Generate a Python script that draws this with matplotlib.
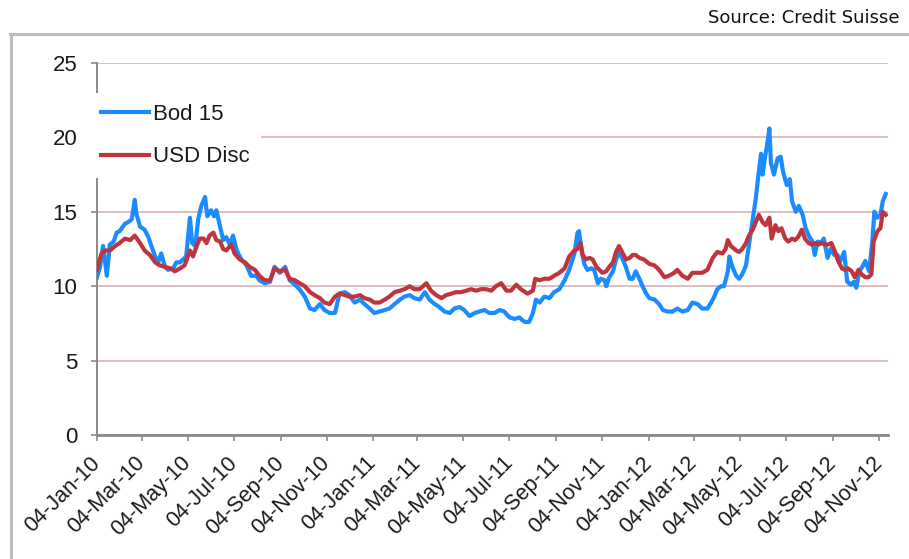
import numpy as np
import matplotlib
matplotlib.use('Agg')
import matplotlib.pyplot as plt
from matplotlib.lines import Line2D
from matplotlib.transforms import ScaledTranslation
import datetime as dt

# ---------------- data ----------------
start_date = '2010-01-04'
series_names = ['Bod 15', 'USD Disc']
source_text = 'Source: Credit Suisse'

# days since 04-Jan-2010 and values
bod15_days = [0, 4, 8, 13, 17, 22, 26, 30, 37, 41, 46, 50, 52, 57, 63, 68, 72, 77, 81, 85,
              90, 94, 101, 105, 110, 114, 118, 123, 126, 130, 134, 138, 143, 146, 151, 155, 158,
              163, 167, 171, 176, 180, 185, 191, 198, 204, 211, 215,
              222, 229, 235, 242, 249, 255, 262, 268, 275, 282, 288, 295, 301, 308, 315, 321,
              328, 334, 341, 348, 354, 361, 367, 374, 381, 387, 394, 401, 407, 414, 420, 427,
              434, 440, 447, 453, 460, 467, 473, 480, 486, 493, 500, 506, 513, 519, 526, 533,
              539, 546, 553, 559, 566, 572, 577, 581, 586, 592, 599, 605, 612, 619, 625, 632, 636,
              638, 642, 645, 649, 654, 658, 663, 667, 672, 674, 678, 683, 687, 691, 696, 700,
              705, 709, 713, 718, 722, 727, 731, 738, 744, 749, 755, 762, 768, 775, 782, 788,
              795, 801, 808, 813, 817, 821, 826, 830, 835, 837, 841, 846, 850,
              854, 859, 863, 868, 872, 876, 879, 881, 884, 887, 890, 892, 896, 901, 905, 908,
              913, 917, 920, 925, 929, 934, 938, 942, 947, 950, 954, 958, 962, 967, 971, 976,
              980, 984, 989, 993, 998, 1002, 1005, 1009, 1013, 1017, 1022, 1026, 1029, 1033,
              1037, 1040, 1044]
bod15_vals = [10.6, 11.3, 12.7, 10.7, 12.8, 13.0, 13.6, 13.7, 14.2, 14.3, 14.5, 15.8, 14.9, 14.0,
              13.8, 13.3, 12.7, 12.0, 11.6, 12.2, 11.3, 11.1, 11.2, 11.6, 11.6, 11.8, 12.0, 14.6,
              12.9, 12.7, 14.5, 15.4, 16.0, 14.7, 15.1, 14.7, 15.1, 14.0, 13.1, 13.3, 12.8, 13.4,
              12.4, 11.8, 11.4, 10.7, 10.7, 10.4,
              10.2, 10.3, 11.3, 10.9, 11.3, 10.4, 10.1, 9.8, 9.3, 8.5, 8.4, 8.8, 8.4, 8.2, 8.2,
              9.5, 9.6, 9.4, 8.9, 9.1, 8.8, 8.5, 8.2, 8.3, 8.4, 8.5, 8.8, 9.1, 9.3, 9.4, 9.2, 9.1,
              9.6, 9.1, 8.8, 8.6, 8.3, 8.2, 8.5, 8.6, 8.4, 8.0, 8.2, 8.3, 8.4, 8.2, 8.2, 8.4,
              8.3, 7.9, 7.8, 7.9, 7.6, 7.6, 8.2, 9.1, 8.9, 9.3, 9.2, 9.6, 9.8, 10.4, 11.1, 12.2, 13.6,
              13.7, 12.2, 11.5, 11.1, 11.2, 11.1, 10.2, 10.5, 10.4, 10.0, 10.6, 11.0, 11.8, 12.3,
              11.8, 11.3, 10.5, 10.5, 11.0, 10.5, 10.0, 9.5, 9.2, 9.1, 8.8, 8.4, 8.3, 8.3, 8.5,
              8.3, 8.4, 8.9, 8.8, 8.5, 8.5, 8.9, 9.3, 9.8, 10.0, 10.0, 11.0, 12.0, 11.3, 10.7, 10.5,
              10.8, 11.4, 12.8, 14.6, 15.9, 17.7, 18.9, 17.5, 18.6, 19.5, 20.6, 18.3, 17.5, 18.6,
              18.7, 17.7, 16.8, 17.2, 15.7, 15.0, 15.4, 14.8, 13.9, 13.4, 13.0, 12.1, 13.0, 12.9,
              13.2, 11.9, 12.5, 12.1, 12.1, 11.7, 12.3, 10.3, 10.1, 10.3, 9.9, 11.0, 11.3, 11.7,
              11.0, 12.9, 15.0, 14.6, 14.8, 15.7, 16.2]

usd_days = [0, 6, 11, 17, 24, 30, 37, 44, 50, 57, 63, 70, 77, 83, 90, 97, 103, 110, 116, 123,
            127, 132, 136, 141, 145, 149, 154, 158, 163, 167, 171, 178, 182, 189, 196, 202, 209, 215,
            222, 229, 235, 242, 249, 255, 262, 268, 275, 282, 288, 295, 301, 308, 315, 321, 328,
            334, 341, 348, 354, 361, 367, 374, 381, 387, 394, 401, 407, 414, 420, 427,
            436, 442, 449, 456, 462, 469, 475, 482, 489, 495, 502, 508, 515, 522, 528, 535, 542,
            548, 555, 561, 570, 577, 580, 586, 592, 599, 605, 612, 619, 625, 632, 636,
            640, 643, 647, 652, 656, 661, 665, 669, 674, 678, 683, 687, 691, 696, 700, 705, 709,
            713, 718, 724, 731, 738, 744, 751, 757, 764, 768, 775, 782, 788, 795, 801, 808, 815,
            821, 828, 832, 835, 839, 846, 850,
            854, 859, 863, 868, 872, 876, 881, 885, 890, 893, 898, 902, 906, 911, 915, 920, 924,
            928, 933, 937, 942, 946, 950, 955, 959, 964, 968, 972, 977, 981, 986, 990, 994, 999,
            1003, 1008, 1012, 1017, 1021, 1025, 1028, 1033, 1037, 1040, 1044]
usd_vals = [11.1, 12.2, 12.4, 12.4, 12.7, 12.9, 13.2, 13.1, 13.4, 12.9, 12.4, 12.1, 11.6, 11.4,
            11.3, 11.2, 11.0, 11.2, 11.4, 12.4, 12.0, 12.7, 13.2, 13.2, 12.9, 13.4, 13.6, 13.1,
            13.0, 12.5, 12.4, 12.8, 12.2, 11.8, 11.6, 11.3, 11.1, 10.7,
            10.4, 10.4, 11.2, 11.0, 11.1, 10.5, 10.4, 10.2, 10.0, 9.6, 9.4, 9.2, 8.9, 8.8, 9.3,
            9.5, 9.4, 9.3, 9.3, 9.4, 9.2, 9.1, 8.9, 8.9, 9.1, 9.3, 9.6, 9.7, 9.8, 10.0, 9.8, 9.8,
            10.2, 9.7, 9.4, 9.2, 9.4, 9.5, 9.6, 9.6, 9.7, 9.8, 9.7, 9.8, 9.8, 9.7, 10.0, 10.2, 9.7,
            9.7, 10.1, 9.8, 9.5, 9.7, 10.5, 10.4, 10.5, 10.5, 10.7, 10.9, 11.2, 12.0, 12.4, 12.5,
            12.9, 12.1, 11.8, 11.9, 11.8, 11.3, 11.1, 10.9, 11.0, 11.3, 11.6, 12.3, 12.7, 12.2,
            11.8, 11.9, 12.1, 12.1, 11.9, 11.8, 11.5, 11.4, 11.1, 10.6, 10.7, 10.9, 11.1, 10.7,
            10.5, 10.9, 10.9, 10.9, 11.1, 11.9, 12.3, 12.2, 12.5, 13.1, 12.7, 12.4, 12.3,
            12.5, 12.9, 13.4, 13.8, 14.3, 14.8, 14.3, 14.1, 14.6, 13.2, 14.1, 13.7, 13.9, 13.2,
            13.0, 13.2, 13.1, 13.3, 13.8, 13.2, 12.9, 12.8, 12.9, 12.8, 12.9, 12.8, 12.8, 12.9,
            12.3, 11.7, 11.2, 11.1, 11.2, 11.0, 10.6, 11.1, 10.8, 10.6, 10.6, 10.8, 13.0, 13.7,
            13.9, 15.0, 14.8]

tick_dates = ['2010-01-04', '2010-03-04', '2010-05-04', '2010-07-04', '2010-09-04', '2010-11-04',
              '2011-01-04', '2011-03-04', '2011-05-04', '2011-07-04', '2011-09-04', '2011-11-04',
              '2012-01-04', '2012-03-04', '2012-05-04', '2012-07-04', '2012-09-04', '2012-11-04']
y_ticks = [0, 5, 10, 15, 20, 25]

# ---------------- figure ----------------
W, H = 909, 559
plt.rcParams['font.family'] = ['Liberation Sans', 'DejaVu Sans']
fig = plt.figure(figsize=(W / 100, H / 100), dpi=100)

# outer panel frame
fig.add_artist(Line2D([10 / W, 1.0], [1 - 34 / H, 1 - 34 / H], transform=fig.transFigure,
                      color='#BEBEBE', lw=2.2))
fig.add_artist(Line2D([11 / W, 11 / W], [1 - 34 / H, 0.0], transform=fig.transFigure,
                      color='#BEBEBE', lw=2.2))
fig.text(900 / W, 1 - 18 / H, source_text, ha='right', va='center', fontsize=13,
         family='DejaVu Sans', color='#111111')

ax = fig.add_axes([97 / W, 1 - 435 / H, (888 - 97) / W, (435 - 63) / H])

base = dt.date.fromisoformat(start_date)
bx = [base + dt.timedelta(days=d) for d in bod15_days]
ux = [base + dt.timedelta(days=d) for d in usd_days]

ax.plot(bx, bod15_vals, color='#1A8CFF', lw=3.0, solid_joinstyle='round', label=series_names[0],
        zorder=3)
ax.plot(ux, usd_vals, color='#C0353D', lw=3.0, solid_joinstyle='round', label=series_names[1],
        zorder=4)

ax.set_xlim(base, base + dt.timedelta(days=1047))
ax.set_ylim(0, 25)
ax.set_yticks(y_ticks)
ax.set_yticklabels([str(v) for v in y_ticks])

tdates = [dt.date.fromisoformat(s) for s in tick_dates]
ax.set_xticks(tdates)
ax.set_xticklabels([d.strftime('%d-%b-%y') for d in tdates], rotation=45, ha='right',
                   va='center', rotation_mode='anchor')
shift = ScaledTranslation(-3 / 100, 0, fig.dpi_scale_trans)
for lab in ax.get_xticklabels():
    lab.set_transform(lab.get_transform() + shift)

ax.yaxis.grid(True, color='#D7AAAD', lw=1.1)
ax.set_axisbelow(True)
for s in ['top', 'right']:
    ax.spines[s].set_visible(False)
ax.spines['left'].set_color('#8A8A8A')
ax.spines['left'].set_linewidth(1.4)
ax.spines['bottom'].set_color('#8A8A8A')
ax.spines['bottom'].set_linewidth(2.0)
ax.tick_params(axis='y', direction='out', length=4, width=1.2, color='#8A8A8A',
               labelsize=16, labelcolor='#1A1A1A', pad=10)
ax.tick_params(axis='x', direction='out', length=4, width=1.2, color='#8A8A8A',
               labelsize=15.5, labelcolor='#1A1A1A', pad=14)

leg = ax.legend(loc='upper left', bbox_to_anchor=(-0.009, 0.919), frameon=True,
                facecolor='white', edgecolor='none', framealpha=1, fancybox=False,
                fontsize=16, handlelength=2.15, handletextpad=0.2, labelspacing=0.95,
                borderaxespad=0, borderpad=0.5)
leg.set_zorder(10)
for t in leg.get_texts():
    t.set_color('#1A1A1A')

fig.savefig('out.png', dpi=100)
